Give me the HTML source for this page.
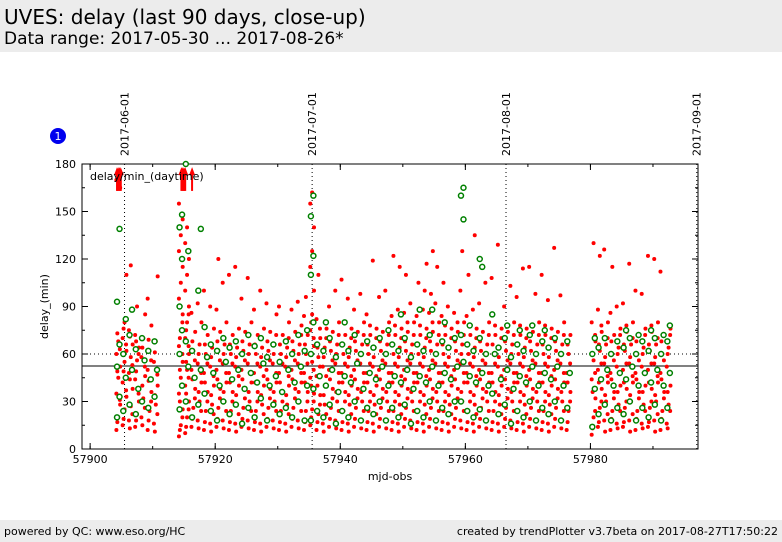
<!DOCTYPE html>
<html><head><meta charset="utf-8"><style>
body{margin:0;width:782px;height:542px;overflow:hidden;background:#fff;font-family:"DejaVu Sans","Liberation Sans",sans-serif}
#hdr{position:absolute;left:0;top:0;width:782px;height:52px;background:#ececec}
#t1{position:absolute;left:4px;top:5px;font-size:20px;color:#000}
#t2{position:absolute;left:4px;top:29px;font-size:17px;color:#000}
#ftr{position:absolute;left:0;top:520px;width:782px;height:22px;background:#ececec;font-size:11px}
</style></head><body>
<div id="hdr">
<div id="t1">UVES: delay (last 90 days, close-up)</div>
<div id="t2">Data range: 2017-05-30 ... 2017-08-26*</div>
</div>
<svg id="chart" width="782" height="542" style="position:absolute;left:0;top:0" xmlns="http://www.w3.org/2000/svg"></svg>
<div id="ftr">
<span style="position:absolute;left:4px;top:5px">powered by QC: www.eso.org/HC</span>
<span style="position:absolute;right:4px;top:5px">created by trendPlotter v3.7beta on 2017-08-27T17:50:22</span>
</div>
<script>
const xTicks=[57900,57920,57940,57960,57980];
const yTicks=[0,30,60,90,120,150,180];
const dateLines=[57905.5,57935.5,57966.5,57997];
const dateLabels=["2017-06-01","2017-07-01","2017-08-01","2017-09-01"];
const medianValue=52.4;
const thresholdValue=60;
const arrowX=[57904.3,57904.5,57904.7,57904.9,57914.6,57914.8,57915.0,57915.2,57916.3];
const redDays=[
[57904,[12,20,28,35,45,52,60,68,165,170]],[57905,[15,25,33,42,55,62,70,80,110]],[57906,[18,27,38,48,58,66,75,116]],
[57907,[14,22,30,44,56,64,72,90]],[57908,[20,32,46,58,70,85]],[57909,[12,24,36,50,62,78,95]],[57910,[16,28,40,55,68,109]],
[57914,[8,15,25,35,45,55,65,75,85,95,105,115,125,135,145,155]],[57915,[10,20,30,40,50,60,70,80,90,100,110,120,130,140]],
[57916,[14,26,38,50,62,74,86]],[57917,[18,30,42,54,66,80,92]],[57918,[12,24,36,48,60,72,100]],[57919,[16,28,40,52,64,76,90]],
[57920,[14,26,38,50,62,74,88,120]],[57921,[18,30,42,54,66,80,105]],[57922,[12,24,36,48,60,72,110]],[57923,[16,28,40,52,64,76,115]],
[57924,[14,26,38,50,62,74,95]],[57925,[18,30,42,54,66,80,108]],[57926,[12,24,36,48,60,72,88]],[57927,[16,28,40,52,64,76,100]],
[57928,[14,26,38,50,62,74,92]],[57929,[18,30,42,54,66,85]],[57930,[12,24,36,48,60,72,90]],[57931,[16,28,40,52,64,80]],
[57932,[14,26,38,50,62,74,88]],[57933,[18,30,42,54,66,78,93]],[57934,[12,24,36,48,60,72,84,96]],
[57935,[15,25,35,45,55,65,75,85,100,115,125,140,155,162]],[57936,[12,22,34,46,58,70,82,110]],[57937,[16,28,40,52,64,76]],
[57938,[14,26,38,50,62,74,90]],[57939,[18,30,42,54,66,80,100]],[57940,[12,24,36,48,60,72,107]],[57941,[16,28,40,52,64,76,95]],
[57942,[14,26,38,50,62,74,88]],[57943,[18,30,42,54,66,80,98]],[57944,[12,24,36,48,60,72,85]],[57945,[16,28,40,52,64,76,119]],
[57946,[14,26,38,50,62,74,96]],[57947,[18,30,42,54,66,80,100]],[57948,[12,24,36,48,60,72,84,122]],[57949,[16,28,40,52,64,76,88,115]],
[57950,[14,26,38,50,62,74,86,110]],[57951,[18,30,42,54,66,80,92]],[57952,[12,24,36,48,60,72,84,105]],[57953,[16,28,40,52,64,76,88,100,117]],
[57954,[14,26,38,50,62,74,86,98,125]],[57955,[18,30,42,54,66,80,92,115]],[57956,[12,24,36,48,60,72,84,105]],[57957,[16,28,40,52,64,76,90]],
[57958,[14,26,38,50,62,74,86]],[57959,[18,30,42,54,66,80,100,125]],[57960,[12,24,36,48,60,72,84,110]],[57961,[16,28,40,52,64,76,88,135]],
[57962,[14,26,38,50,62,74,92,115]],[57963,[18,30,42,54,66,80,105]],[57964,[12,24,36,48,60,72,108]],[57965,[16,28,40,52,64,76,129]],
[57966,[14,26,38,50,62,74,90]],[57967,[18,30,42,54,66,80,103]],[57968,[12,24,36,48,60,72,96]],[57969,[16,28,40,52,64,76,114]],
[57970,[14,26,38,50,62,74,115]],[57971,[18,30,42,54,66,80,98]],[57972,[12,24,36,48,60,72,110]],[57973,[16,28,40,52,64,76,94]],
[57974,[14,26,38,50,62,74,127]],[57975,[18,30,42,54,66,80,97]],[57976,[12,24,36,48,60,72]],
[57980,[9,20,32,44,56,68,80,130]],[57981,[14,26,38,50,62,74,88,122]],[57982,[18,30,42,54,66,80,126]],[57983,[12,24,36,48,60,72,86,115]],
[57984,[16,28,40,52,64,76,90]],[57985,[14,26,38,50,62,74,92]],[57986,[18,30,42,54,66,80,117]],[57987,[12,24,36,48,60,72,100]],
[57988,[16,28,40,52,64,76,98]],[57989,[14,26,38,50,62,74,122]],[57990,[18,30,42,54,66,80,120]],[57991,[12,24,36,48,60,72,112]],
[57992,[16,28,40,52,64,76]]];
const redDays2=[
[57904,[17,31,49,63,73]],[57905,[19,37,49,66,76]],[57906,[13,22,44,53,71]],[57907,[18,35,49,60,68]],[57908,[15,26,40,52,64]],
[57909,[18,30,43,56,69]],[57910,[11,22,34,47,61]],[57914,[12,20,30,40,50,60,70,80,90]],[57915,[14,25,35,45,55,65,75,85]],
[57916,[19,32,44,56,68]],[57917,[13,24,36,48,60]],[57918,[17,30,42,54,66]],[57919,[11,22,34,46,58]],[57920,[19,32,44,56,68]],
[57921,[13,24,36,48,60]],[57922,[17,30,42,54,66]],[57923,[11,22,34,46,58]],[57924,[19,32,44,56,68]],[57925,[13,24,36,48,60]],
[57926,[17,30,42,54,66]],[57927,[11,22,34,46,58]],[57928,[19,32,44,56,68]],[57929,[13,24,36,48,60,72]],[57930,[17,30,42,54,66]],
[57931,[11,22,34,46,58,70]],[57932,[19,32,44,56,68]],[57933,[13,24,36,48,60,72]],[57934,[17,30,42,54,66]],[57935,[20,30,40,50,60,70,80]],
[57936,[17,28,40,52,64,76]],[57937,[11,22,34,46,58,70]],[57938,[19,32,44,56,68]],[57939,[13,24,36,48,60,72]],[57940,[17,30,42,54,66]],
[57941,[11,22,34,46,58,70]],[57942,[19,32,44,56,68]],[57943,[13,24,36,48,60,72]],[57944,[17,30,42,54,66,78]],[57945,[11,22,34,46,58,70]],
[57946,[19,32,44,56,68]],[57947,[13,24,36,48,60,72]],[57948,[17,30,42,54,66,78]],[57949,[11,22,34,46,58,70]],[57950,[19,32,44,56,68,80]],
[57951,[13,24,36,48,60,72]],[57952,[17,30,42,54,66,78]],[57953,[11,22,34,46,58,70]],[57954,[19,32,44,56,68,80]],[57955,[13,24,36,48,60,72]],
[57956,[17,30,42,54,66,78]],[57957,[11,22,34,46,58,70]],[57958,[19,32,44,56,68,80]],[57959,[13,24,36,48,60,72]],[57960,[17,30,42,54,66,78]],
[57961,[11,22,34,46,58,70]],[57962,[19,32,44,56,68]],[57963,[13,24,36,48,60,72]],[57964,[17,30,42,54,66,78]],[57965,[11,22,34,46,58,70]],
[57966,[19,32,44,56,68]],[57967,[13,24,36,48,60,72]],[57968,[17,30,42,54,66,78]],[57969,[11,22,34,46,58,70]],[57970,[19,32,44,56,68]],
[57971,[13,24,36,48,60,72]],[57972,[17,30,42,54,66,78]],[57973,[11,22,34,46,58,70]],[57974,[19,32,44,56,68]],[57975,[13,24,36,48,60,72]],
[57976,[17,30,42,54,66]],[57980,[13,24,36,48,60,72]],[57981,[17,30,42,54,66,78]],[57982,[11,22,34,46,58,70]],[57983,[19,32,44,56,68]],
[57984,[13,24,36,48,60,72]],[57985,[17,30,42,54,66,78]],[57986,[11,22,34,46,58,70]],[57987,[19,32,44,56,68]],[57988,[13,24,36,48,60,72]],
[57989,[17,30,42,54,66,78]],[57990,[11,22,34,46,58,70]],[57991,[19,32,44,56,68]],[57992,[13,24,36,48,60,72]]];
const greenDays=[
[57904,[20,33,52,66,93,139]],[57905,[24,45,60,82]],[57906,[28,50,72,88]],[57907,[22,38,63]],[57908,[30,56,70]],[57909,[26,44,62]],[57910,[33,50,68]],
[57914,[25,40,60,75,90,120,140,148]],[57915,[30,52,68,125,180]],[57916,[20,45,62]],[57917,[28,50,100,139]],[57918,[35,58,77]],[57919,[24,48,66]],
[57920,[18,40,62]],[57921,[30,55,70]],[57922,[22,44,64]],[57923,[28,50,68]],[57924,[16,38,60]],[57925,[26,48,72]],[57926,[20,42,65]],
[57927,[32,54,70]],[57928,[18,40,58]],[57929,[28,46,66]],[57930,[22,36,55]],[57931,[26,50,68]],[57932,[20,42,60]],[57933,[30,52,72]],
[57934,[18,40,62,75]],[57935,[18,38,60,80,110,122,147,160]],[57936,[24,46,66]],[57937,[20,40,62,80]],[57938,[28,50,70]],[57939,[16,36,58]],
[57940,[24,46,66,80]],[57941,[20,42,62]],[57942,[30,54,72]],[57943,[18,38,60]],[57944,[26,48,68]],[57945,[22,44,64]],[57946,[30,52,70]],
[57947,[18,40,60,75]],[57948,[26,46,66]],[57949,[20,42,62,85]],[57950,[28,50,70]],[57951,[16,38,58]],[57952,[24,46,66,88]],[57953,[20,42,62]],
[57954,[30,52,72,88]],[57955,[18,40,60]],[57956,[26,48,68,80]],[57957,[22,44,64]],[57958,[30,52,70]],[57959,[30,55,72,145,160,165]],
[57960,[24,46,66,78]],[57961,[20,42,62]],[57962,[25,48,70,115,120]],[57963,[18,40,60]],[57964,[35,60,85]],[57965,[22,44,64]],
[57966,[28,50,70,78]],[57967,[16,38,58]],[57968,[24,46,66,75]],[57969,[20,42,62]],[57970,[30,52,72,78]],[57971,[18,40,60]],
[57972,[26,48,68,75]],[57973,[22,44,64]],[57974,[30,52,70]],[57975,[18,40,60]],[57976,[26,48,68]],
[57980,[14,38,60,70]],[57981,[22,44,64]],[57982,[28,50,70]],[57983,[18,40,60]],[57984,[26,48,68]],[57985,[22,44,64,75]],
[57986,[30,52,70]],[57987,[18,40,60,72]],[57988,[26,48,68]],[57989,[20,42,62,75]],[57990,[28,50,70]],[57991,[18,40,60,72]],[57992,[26,48,68,78]]];

const NS="http://www.w3.org/2000/svg";
const svg=document.getElementById('chart');
const L=82,R=698,T=164,B=449,X0=57898.7,X1=57997.2;
const sx=v=>L+(v-X0)/(X1-X0)*(R-L);
const sy=v=>B-v/180*(B-T);
function mk(tag,attrs,parent){const e=document.createElementNS(NS,tag);for(const k in attrs)e.setAttribute(k,attrs[k]);(parent||svg).appendChild(e);return e;}

let e;
e=mk('rect',{x:L,y:T,width:R-L,height:B-T,fill:'none',stroke:'#000','stroke-width':1});


xTicks.forEach(v=>{
 e=mk('line',{x1:sx(v),x2:sx(v),y1:B,y2:B-6,stroke:'#000'});
 
 
 mk('line',{x1:sx(v),x2:sx(v),y1:T,y2:T+6,stroke:'#000'});
 e=mk('text',{x:sx(v),y:B+14,'font-size':11,'text-anchor':'middle'});e.textContent=v;
 
 
});
for(let v=57900;v<57998;v+=10){mk('line',{x1:sx(v),x2:sx(v),y1:B,y2:B-3,stroke:'#000'});mk('line',{x1:sx(v),x2:sx(v),y1:T,y2:T+3,stroke:'#000'});}
yTicks.forEach(v=>{
 e=mk('line',{x1:L,x2:L+6,y1:sy(v),y2:sy(v),stroke:'#000'});
 
 
 mk('line',{x1:R,x2:R-6,y1:sy(v),y2:sy(v),stroke:'#000'});
 e=mk('text',{x:L-6,y:sy(v)+4,'font-size':11,'text-anchor':'end'});e.textContent=v;
 
 
});
for(let v=15;v<180;v+=30){mk('line',{x1:L,x2:L+3,y1:sy(v),y2:sy(v),stroke:'#000'});mk('line',{x1:R,x2:R-3,y1:sy(v),y2:sy(v),stroke:'#000'});}
dateLines.forEach((v,i)=>{
 e=mk('line',{x1:sx(v),x2:sx(v),y1:T,y2:B,stroke:'#000','stroke-dasharray':'1,3'});
 
 
 e=mk('text',{x:0,y:0,'font-size':11,transform:`translate(${sx(v)+4},${T-8}) rotate(-90)`});e.textContent=dateLabels[i];
 
 
});
e=mk('line',{x1:L,x2:R,y1:sy(medianValue),y2:sy(medianValue),stroke:'#000'});


e=mk('line',{x1:L,x2:R,y1:sy(thresholdValue),y2:sy(thresholdValue),stroke:'#000','stroke-dasharray':'1,3'});


redDays.forEach(([d,vals])=>{vals.forEach((v,i)=>{
 e=mk('circle',{cx:sx(d+0.2+(i%3)*0.3),cy:sy(v),r:2,fill:'#ff0000'});
 
 
});});
redDays2.forEach(([d,vals])=>{vals.forEach((v,i)=>{
 e=mk('circle',{cx:sx(d+0.35+(i%2)*0.4),cy:sy(v),r:2,fill:'#ff0000'});
 
 
});});
arrowX.forEach(v=>{
 e=mk('line',{x1:sx(v),x2:sx(v),y1:sy(163),y2:sy(176),stroke:'#ff0000','stroke-width':2});
 
 
 mk('polygon',{points:`${sx(v)-3},${sy(173)} ${sx(v)+3},${sy(173)} ${sx(v)},${sy(178)}`,fill:'#ff0000'});
});
greenDays.forEach(([d,vals])=>{vals.forEach((v,i)=>{
 e=mk('circle',{cx:sx(d+0.3+(i%2)*0.4),cy:sy(v),r:2.5,fill:'#fff',stroke:'#008000','stroke-width':1.5});
 
 
});});
e=mk('text',{x:90,y:180,'font-size':11});e.textContent='delay/min_(daytime)';


e=mk('text',{x:0,y:0,'font-size':11,'text-anchor':'middle',transform:`translate(48,${(T+B)/2}) rotate(-90)`});e.textContent='delay_(min)';


e=mk('text',{x:(L+R)/2,y:480,'font-size':11,'text-anchor':'middle'});e.textContent='mjd-obs';


e=mk('circle',{cx:58,cy:136,r:8,fill:'#0000ee'});


e=mk('text',{x:58,y:140,'font-size':11,'text-anchor':'middle',fill:'#fff'});e.textContent='1';


</script>
</body></html>
